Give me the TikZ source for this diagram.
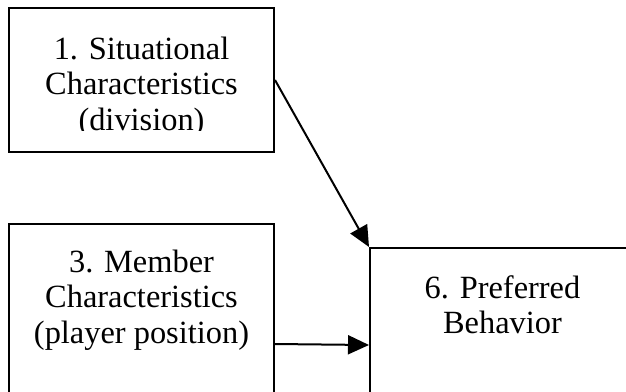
\documentclass[tikz,border=0pt]{standalone}
\usepackage{fontspec}
\setmainfont{Liberation Serif}
\usetikzlibrary{arrows.meta,positioning}

\tikzset{
  box/.style={draw=black, line width=2pt, minimum width=265pt, inner sep=0pt},
  boxtext/.style={anchor=north, align=center, inner sep=0pt, font=\fontsize{32.4}{35.2}\selectfont},
  arr/.style={line width=2pt, -{Triangle[length=21pt,width=19pt]}}
}

\begin{document}
\begin{tikzpicture}[x=1pt,y=-1pt]
\clip (0,0) rectangle (626,391);
% boxes
\node[box, minimum height=144pt] (sit) at (141.5,80) {};
\node[box, minimum height=240pt] (mem) at (141.5,344) {};
\node[box, minimum height=194pt] (pref) at (502.5,345) {};
% texts (the first one is cut off by its box)
\begin{scope}
\clip (0,0) rectangle (626,130.5);
\node[boxtext, below=30pt of sit.north] (sittxt) {1. Situational\\Characteristics\\(division)};
\end{scope}
\node[boxtext, below=27pt of mem.north] (memtxt) {3. Member\\Characteristics\\(player position)};
\node[boxtext, below=28pt of pref.north] (preftxt) {6. Preferred\\Behavior};
% arrows
\draw[arr] (sit.east) -- (pref.north west);
\draw[arr] (mem.east) -- (pref.west);
\end{tikzpicture}
\end{document}
